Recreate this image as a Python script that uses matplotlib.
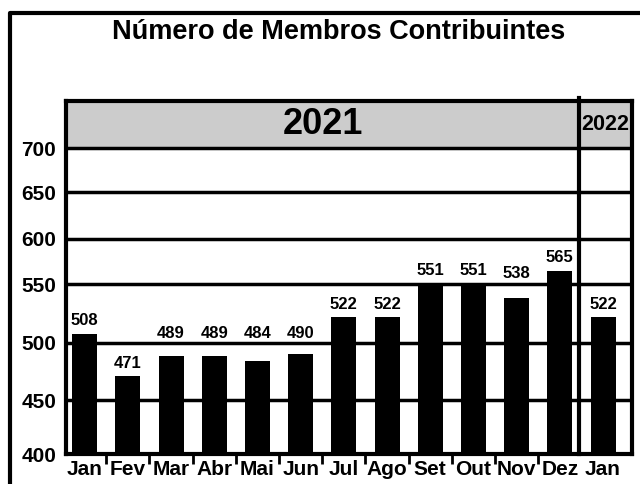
import numpy as np
import matplotlib
matplotlib.use("Agg")
import matplotlib.pyplot as plt
from matplotlib.lines import Line2D

# ---- data ----
months = ["Jan", "Fev", "Mar", "Abr", "Mai", "Jun", "Jul", "Ago", "Set", "Out", "Nov", "Dez", "Jan"]
members = [508, 471, 489, 489, 484, 490, 522, 522, 551, 551, 538, 565, 522]
yticks = [400, 450, 500, 550, 600, 650, 700]
year_labels = ["2021", "2022"]
title = "Número de Membros Contribuintes"

# ---- axis scale (the original chart's gridlines are unevenly spaced) ----
scale_vals = np.array([400, 450, 500, 550, 600, 650, 700, 753], dtype=float)
scale_pos = np.array([0, 54, 111, 170, 215, 262, 306, 353], dtype=float)

def fwd(v):
    v = np.asarray(v, dtype=float)
    out = np.interp(v, scale_vals, scale_pos)
    out = np.where(v < scale_vals[0], scale_pos[0] + (v - scale_vals[0]), out)
    out = np.where(v > scale_vals[-1], scale_pos[-1] + (v - scale_vals[-1]), out)
    return out

def inv(p):
    p = np.asarray(p, dtype=float)
    out = np.interp(p, scale_pos, scale_vals)
    out = np.where(p < scale_pos[0], scale_vals[0] + (p - scale_pos[0]), out)
    out = np.where(p > scale_pos[-1], scale_vals[-1] + (p - scale_pos[-1]), out)
    return out

plt.rcParams['font.family'] = ['Liberation Sans', 'DejaVu Sans']
plt.rcParams['font.weight'] = 'bold'

fig = plt.figure(figsize=(6.4, 4.84), dpi=100)
ax = fig.add_axes([66/640, 30/484, (632-66)/640, (454-101)/484])
ax.set_yscale('function', functions=(fwd, inv))

x = np.arange(len(months))
ymax = 753
xmin, xmax = -0.433, 12.67
ax.set_ylim(400, ymax)
ax.set_xlim(xmin, xmax)

# gray year band
sep = 11.45
ax.axhspan(700, ymax, color='#cccccc', zorder=0)

# gridlines
for t in yticks[1:]:
    ax.axhline(t, color='black', lw=2.5, zorder=1)

ax.bar(x, members, width=0.58, color='black', zorder=3)

# value labels: placed above the bar; nudged above a gridline if they would sit on it
grid_pos = fwd(yticks[1:])
half_h, gap, margin = 6.0, 13.0, 3.0
for xi, v in zip(x, members):
    c = float(fwd(v)) + gap
    for g in grid_pos:
        if abs(c - g) < half_h + margin:
            c = g + half_h + 4.0
    ax.text(xi, float(inv(c)), str(v), ha='center', va='center',
            fontsize=12, fontweight='bold', zorder=5)

# separator between years
ax.plot([sep, sep], [400, ymax + 3], color='black', lw=3, clip_on=False, zorder=4)

ax.text((xmin + sep) / 2, (700 + ymax) / 2, year_labels[0], ha='center', va='center',
        fontsize=26, fontweight='bold')
ax.text((sep + xmax) / 2 - 0.02, (700 + ymax) / 2, year_labels[1], ha='center', va='center',
        fontsize=15.5, fontweight='bold')

ax.set_yticks(yticks)
ax.set_yticklabels([str(t) for t in yticks], fontsize=15, fontweight='bold')
ax.tick_params(axis='y', length=0, pad=7)
ax.yaxis.set_minor_locator(matplotlib.ticker.NullLocator())

ax.set_xticks(x)
ax.set_xticklabels(months, fontsize=15, fontweight='bold')
ax.set_xticks(np.arange(0.5, 11, 1.0), minor=True)
ax.tick_params(axis='x', which='major', length=0, pad=4)
ax.tick_params(axis='x', which='minor', length=7, width=2, direction='out', color='black')

for s in ax.spines.values():
    s.set_linewidth(3)
    s.set_color('black')

# outer frame (clipped on right and bottom)
fig.add_artist(Line2D([10/640, 10/640, 1.2], [-0.2, 1 - 13/484, 1 - 13/484],
                      transform=fig.transFigure, color='black', lw=3))

fig.text(339/640, 1 - 32/484, title, ha='center', va='center', fontsize=19.5, fontweight='bold')

fig.savefig('out.png', dpi=100)
